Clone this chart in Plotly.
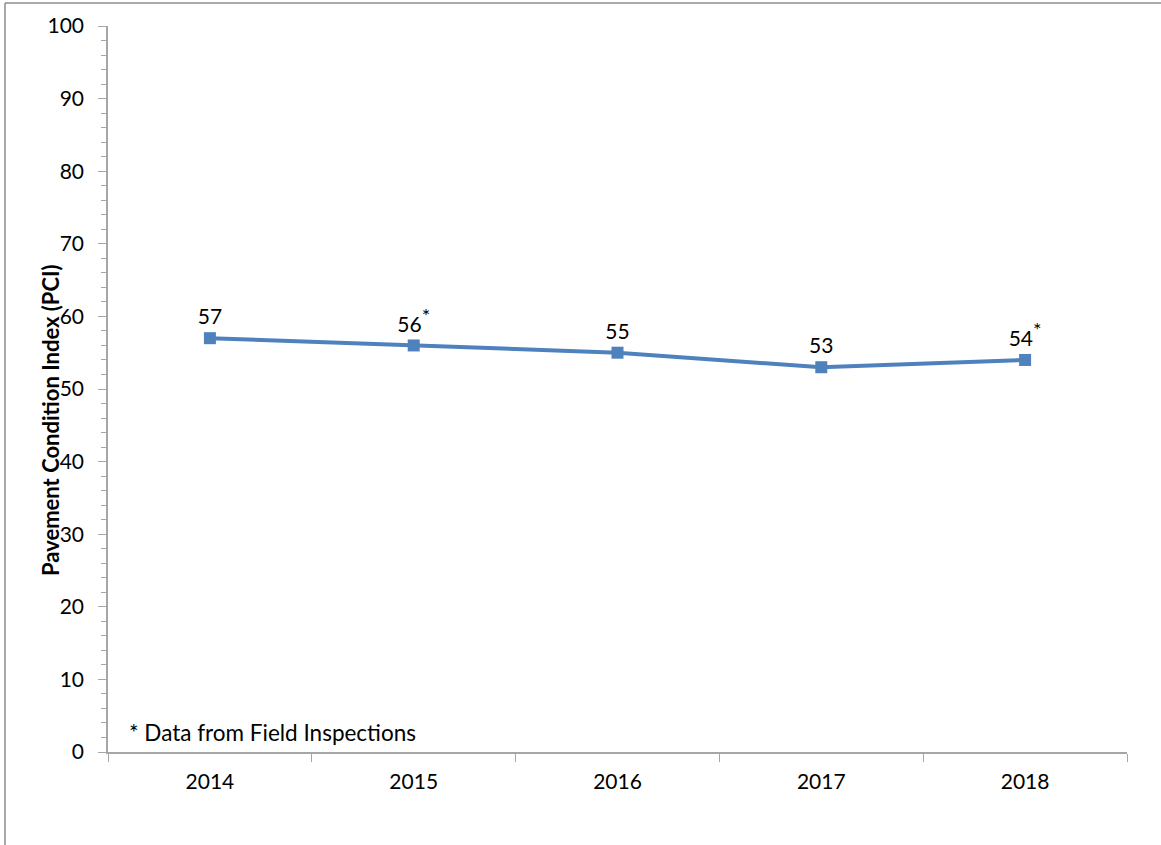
import plotly.graph_objects as go

years = ["2014", "2015", "2016", "2017", "2018"]
pci = [57, 56, 55, 53, 54]
field_inspection = [False, True, False, False, True]
footnote = "* Data from Field Inspections"
y_title = "Pavement Condition Index (PCI)"

labels = [f"{v}<sup><span style='font-size:20px'>*</span></sup>" if f else f"{v}"
          for v, f in zip(pci, field_inspection)]

FONT = "Lato, Open Sans, sans-serif"
W, H = 1161, 845
L, R, T, B = 108, 34, 26, 93
pw, ph = W - L - R, H - T - B

def px(x):
    return (x - L) / pw

def py(y):
    return (H - B - y) / ph

fig = go.Figure()
fig.add_trace(go.Scatter(
    x=years, y=pci, mode="lines+markers+text",
    line=dict(color="#4F81BD", width=4),
    marker=dict(symbol="square", size=12, color="#4F81BD"),
    text=labels, textposition="top center",
    textfont=dict(family=FONT, size=21, color="#000000"),
    cliponaxis=False, showlegend=False,
))

fig.update_layout(
    width=W, height=H,
    margin=dict(l=L, r=R, t=T, b=B),
    paper_bgcolor="white", plot_bgcolor="white",
    font=dict(family=FONT, size=21, color="#000000"),
    xaxis=dict(
        type="category", range=[-0.5, 4.5],
        showline=True, linecolor="#A6A6A6", linewidth=1.5,
        ticks="outside", tickson="boundaries", ticklen=8, tickcolor="#A6A6A6",
        showgrid=False, zeroline=False,
        ticklabelstandoff=10,
        tickfont=dict(family=FONT, size=21, color="#000000"),
    ),
    yaxis=dict(
        range=[0, 100], dtick=10, tick0=0,
        showline=True, linecolor="#A6A6A6", linewidth=1.5,
        ticks="outside", ticklen=8, tickcolor="#A6A6A6",
        minor=dict(dtick=2, ticks="outside", ticklen=5, tickcolor="#A6A6A6", showgrid=False),
        showgrid=False, zeroline=False,
        ticklabelstandoff=10,
        tickfont=dict(family=FONT, size=21, color="#000000"),
    ),
    annotations=[
        dict(text=f"<b>{y_title}</b>", xref="paper", yref="paper",
             x=px(50), y=py(420), textangle=-90, showarrow=False,
             font=dict(family=FONT, size=22, color="#000000"),
             xanchor="center", yanchor="middle"),
        dict(text=footnote, xref="paper", yref="paper",
             x=px(127), y=py(732), showarrow=False,
             font=dict(family=FONT, size=22.5, color="#000000"),
             xanchor="left", yanchor="middle"),
    ],
    shapes=[
        dict(type="line", xref="paper", yref="paper",
             x0=px(5), x1=px(W + 5), y0=py(3), y1=py(3),
             line=dict(color="#8C8C8C", width=1.5)),
        dict(type="line", xref="paper", yref="paper",
             x0=px(5), x1=px(5), y0=py(3), y1=py(H + 5),
             line=dict(color="#8C8C8C", width=1.5)),
    ],
)

fig.write_html("out.html", config={"displayModeBar": False},
               post_script="document.body.style.margin='0';")
